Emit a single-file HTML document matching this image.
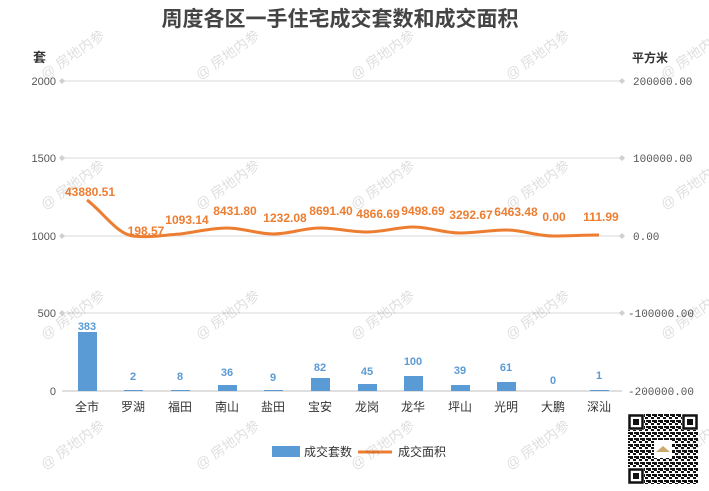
<!DOCTYPE html>
<html><head><meta charset="utf-8"><style>
html,body{margin:0;padding:0;background:#fff;}
svg{display:block;font-family:"Liberation Sans","Noto Sans CJK SC",sans-serif;}
</style></head><body>
<svg width="709" height="491" viewBox="0 0 709 491" xmlns="http://www.w3.org/2000/svg">
<defs>
<pattern id="qr" width="6" height="6" patternUnits="userSpaceOnUse">
<rect x="0" y="0" width="3" height="3" fill="#111"/><rect x="3" y="3" width="3" height="2" fill="#111"/><rect x="4" y="0" width="2" height="2" fill="#111"/>
</pattern>
</defs>
<text x="340" y="26" text-anchor="middle" font-size="21" font-weight="bold" fill="#444">周度各区一手住宅成交套数和成交面积</text>
<text x="33" y="62" font-size="13" font-weight="bold" fill="#333">套</text>
<text x="632" y="62" font-size="12" font-weight="bold" fill="#333">平方米</text>
<g stroke="#e0e0e0" stroke-width="1.2">
<line x1="62" y1="81" x2="622" y2="81"/><line x1="62" y1="158" x2="622" y2="158"/><line x1="62" y1="236" x2="622" y2="236"/><line x1="62" y1="313" x2="622" y2="313"/><line x1="62" y1="391" x2="622" y2="391" stroke="#ccc"/>
</g>
<g fill="#d0d0d0">
<path d="M62 78l3 3-3 3-3-3z"/><path d="M62 155l3 3-3 3-3-3z"/><path d="M62 233l3 3-3 3-3-3z"/><path d="M62 310l3 3-3 3-3-3z"/>
<path d="M622 78l3 3-3 3-3-3z"/><path d="M622 155l3 3-3 3-3-3z"/><path d="M622 233l3 3-3 3-3-3z"/><path d="M622 310l3 3-3 3-3-3z"/>
</g>
<g font-size="11" fill="#555" text-anchor="end">
<text x="56" y="85">2000</text><text x="56" y="162">1500</text><text x="56" y="240">1000</text><text x="56" y="317">500</text><text x="56" y="395">0</text>
</g>
<g font-size="11" fill="#555" font-family="Liberation Mono,monospace">
<text x="633" y="85">200000.00</text><text x="633" y="162">100000.00</text><text x="633" y="240">0.00</text><text x="628" y="317">-100000.00</text><text x="628" y="395">-200000.00</text>
</g>
<g fill="#5b9bd5">
<rect x="78" y="332" width="19" height="59"/><rect x="124" y="390" width="19" height="1"/><rect x="171" y="390" width="19" height="1"/><rect x="218" y="385" width="19" height="6"/><rect x="264" y="390" width="19" height="1"/><rect x="311" y="378" width="19" height="13"/><rect x="358" y="384" width="19" height="7"/><rect x="404" y="376" width="19" height="15"/><rect x="451" y="385" width="19" height="6"/><rect x="497" y="382" width="19" height="9"/><rect x="590" y="390" width="19" height="1"/>
</g>
<g font-size="11" font-weight="bold" fill="#5b9bd5" text-anchor="middle">
<text x="87" y="330">383</text><text x="133" y="380">2</text><text x="180" y="380">8</text><text x="227" y="376">36</text><text x="273" y="381">9</text><text x="320" y="371">82</text><text x="367" y="375">45</text><text x="413" y="365">100</text><text x="460" y="374">39</text><text x="506" y="371">61</text><text x="553" y="384">0</text><text x="599" y="379">1</text>
</g>
<g font-size="12" fill="#333" text-anchor="middle">
<text x="87" y="411">全市</text><text x="133" y="411">罗湖</text><text x="180" y="411">福田</text><text x="227" y="411">南山</text><text x="273" y="411">盐田</text><text x="320" y="411">宝安</text><text x="367" y="411">龙岗</text><text x="413" y="411">龙华</text><text x="460" y="411">坪山</text><text x="506" y="411">光明</text><text x="553" y="411">大鹏</text><text x="599" y="411">深汕</text>
</g>
<path d="M87 200 C103 212,117 234,133 236 C149 238,164 235,180 234 C196 232,211 228,227 228 C243 228,258 234,273 234 C289 234,304 228,320 228 C336 228,351 232,367 232 C383 232,398 227,413 227 C429 227,444 233,460 233 C476 233,490 230,506 230 C522 230,537 236,553 236 C569 236,584 235,599 235" fill="none" stroke="#ed7d31" stroke-width="3"/>
<g font-size="12" font-weight="bold" fill="#ed7d31" text-anchor="middle">
<text x="90" y="196">43880.51</text><text x="146" y="235">198.57</text><text x="187" y="224">1093.14</text><text x="235" y="215">8431.80</text><text x="285" y="222">1232.08</text><text x="331" y="215">8691.40</text><text x="378" y="218">4866.69</text><text x="423" y="215">9498.69</text><text x="471" y="219">3292.67</text><text x="516" y="216">6463.48</text><text x="554" y="221">0.00</text><text x="601" y="221">111.99</text>
</g>
<rect x="272" y="446" width="28" height="11" fill="#5b9bd5"/>
<text x="304" y="456" font-size="12" fill="#333">成交套数</text>
<line x1="358" y1="452" x2="392" y2="452" stroke="#ed7d31" stroke-width="3"/>
<text x="398" y="456" font-size="12" fill="#333">成交面积</text>
<g font-size="14" fill="#000" opacity="0.13">
<text transform="translate(45,80) rotate(-35)">@ 房地内参</text><text transform="translate(200,80) rotate(-35)">@ 房地内参</text><text transform="translate(355,80) rotate(-35)">@ 房地内参</text><text transform="translate(510,80) rotate(-35)">@ 房地内参</text><text transform="translate(665,80) rotate(-35)">@ 房地内参</text>
<text transform="translate(45,210) rotate(-35)">@ 房地内参</text><text transform="translate(200,210) rotate(-35)">@ 房地内参</text><text transform="translate(355,210) rotate(-35)">@ 房地内参</text><text transform="translate(510,210) rotate(-35)">@ 房地内参</text><text transform="translate(665,210) rotate(-35)">@ 房地内参</text>
<text transform="translate(45,340) rotate(-35)">@ 房地内参</text><text transform="translate(200,340) rotate(-35)">@ 房地内参</text><text transform="translate(355,340) rotate(-35)">@ 房地内参</text><text transform="translate(510,340) rotate(-35)">@ 房地内参</text><text transform="translate(665,340) rotate(-35)">@ 房地内参</text>
<text transform="translate(45,470) rotate(-35)">@ 房地内参</text><text transform="translate(200,470) rotate(-35)">@ 房地内参</text><text transform="translate(355,470) rotate(-35)">@ 房地内参</text><text transform="translate(510,470) rotate(-35)">@ 房地内参</text><text transform="translate(665,470) rotate(-35)">@ 房地内参</text>
</g>
<rect x="628" y="414" width="70" height="70" fill="url(#qr)"/>
<g fill="#fff"><rect x="628" y="414" width="16" height="16"/><rect x="682" y="414" width="16" height="16"/><rect x="628" y="468" width="16" height="16"/><rect x="654" y="440" width="18" height="18"/></g>
<g fill="none" stroke="#111" stroke-width="2.5"><rect x="629.5" y="415.5" width="13" height="13"/><rect x="683.5" y="415.5" width="13" height="13"/><rect x="629.5" y="469.5" width="13" height="13"/></g>
<g fill="#111"><rect x="633" y="419" width="6" height="6"/><rect x="687" y="419" width="6" height="6"/><rect x="633" y="473" width="6" height="6"/></g>
<path d="M656 452 l7-6 7 6z" fill="#c9a96e"/>
</svg>
</body></html>
